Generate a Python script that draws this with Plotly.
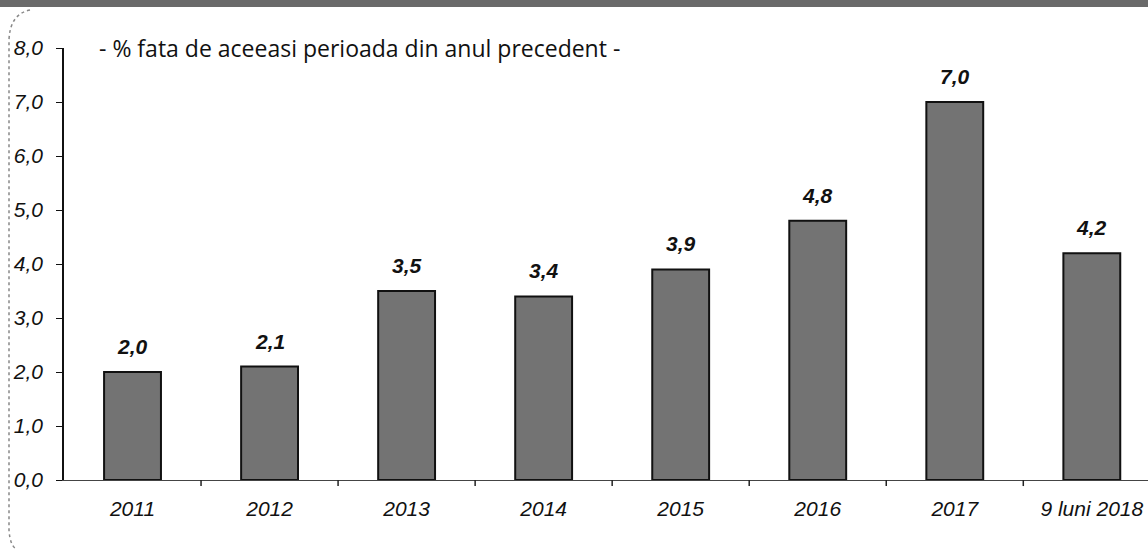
import plotly.graph_objects as go

categories = ["2011", "2012", "2013", "2014", "2015", "2016", "2017", "9 luni 2018"]
values = [2.0, 2.1, 3.5, 3.4, 3.9, 4.8, 7.0, 4.2]
labels = ["2,0", "2,1", "3,5", "3,4", "3,9", "4,8", "7,0", "4,2"]
y_ticks = [0, 1, 2, 3, 4, 5, 6, 7, 8]
y_tick_labels = ["0,0", "1,0", "2,0", "3,0", "4,0", "5,0", "6,0", "7,0", "8,0"]
subtitle = "- % fata de aceeasi perioada din anul precedent -"

W, H = 1148, 551
ML, MR, MT, MB = 64, 0, 48, 71
PW, PH = W - ML - MR, H - MT - MB

def px(x):
    return (x - ML) / PW

def py(y):
    return (H - MB - y) / PH

fig = go.Figure()
fig.add_trace(go.Bar(
    x=list(range(len(categories))),
    y=values,
    marker=dict(color="#737373", line=dict(color="#111111", width=2)),
    hoverinfo="skip",
))

for i, (v, lab) in enumerate(zip(values, labels)):
    fig.add_annotation(x=i, y=v, text=f"<b><i>{lab}</i></b>", showarrow=False,
                       xanchor="center", yanchor="bottom", yshift=12,
                       font=dict(family="Liberation Sans", size=21, color="#111111"))

fig.update_layout(
    width=W, height=H,
    margin=dict(l=ML, r=MR, t=MT, b=MB),
    paper_bgcolor="white", plot_bgcolor="white",
    bargap=0.585,
    showlegend=False,
    xaxis=dict(
        range=[-0.5, 7.41],
        tickmode="array",
        tickvals=list(range(len(categories))),
        ticktext=categories,
        showgrid=False, zeroline=False,
        showline=True, linecolor="#444444", linewidth=1,
        ticks="",
        tickfont=dict(family="Liberation Sans", size=21, color="#111111", style="italic"),
        ticklabelstandoff=10,
    ),
    yaxis=dict(
        range=[0, 8],
        tickmode="array",
        tickvals=y_ticks,
        ticktext=y_tick_labels,
        showgrid=False, zeroline=False,
        showline=True, linecolor="#111111", linewidth=1.5,
        ticks="outside", ticklen=6, tickcolor="#111111",
        tickfont=dict(family="Liberation Sans", size=21, color="#111111", style="italic"),
        ticklabelstandoff=9,
    ),
)

# category boundary tick marks on the x axis
for i in range(len(categories) - 1):
    fig.add_shape(type="line", xref="x", yref="paper",
                  x0=i + 0.5, x1=i + 0.5, y0=0, y1=-0.014,
                  line=dict(color="#222222", width=1.5))

# subtitle
fig.add_annotation(text=subtitle, xref="paper", yref="paper",
                   x=px(97), y=py(48), xanchor="left", yanchor="middle",
                   showarrow=False,
                   font=dict(family="Open Sans", size=23, color="#111111"))

# top dark band (header remnant)
fig.add_shape(type="rect", xref="paper", yref="paper",
              x0=px(0), x1=px(W), y0=py(0), y1=py(7),
              fillcolor="#6a6a6a", line=dict(width=0), layer="above")

# left rounded frame border
fig.add_shape(type="path", xref="paper", yref="paper",
              path=f"M {px(30)} {py(10)} Q {px(10)} {py(14)} {px(9)} {py(40)} L {px(9)} {py(530)} Q {px(10)} {py(545)} {px(16)} {py(549)}",
              line=dict(color="#888888", width=1.5, dash="dot"))

fig.write_html("out.html",
               config={"displayModeBar": False},
               post_script="document.body.style.margin='0';document.body.style.overflow='hidden';")
